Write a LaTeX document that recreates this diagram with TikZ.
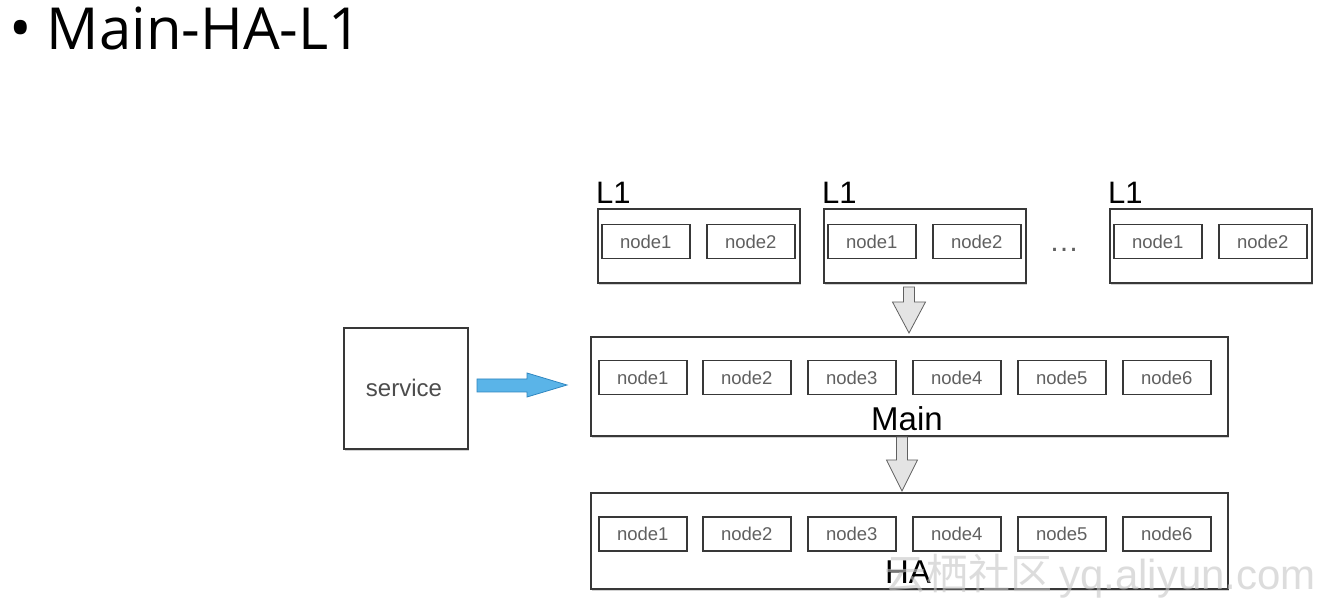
\documentclass[tikz,border=0pt]{standalone}
\usepackage{fontspec}
\setmainfont{Liberation Sans}
\newfontfamily\titlefont{Open Sans}
\newfontfamily\cjkfont{Noto Sans CJK SC}
\usetikzlibrary{shadows}
\definecolor{linec}{HTML}{383838}
\definecolor{txtc}{HTML}{606060}
\definecolor{bluef}{HTML}{5AB4E8}
\definecolor{blued}{HTML}{2F86C0}
\definecolor{grayf}{HTML}{E4E4E4}
\tikzset{
  outerbox/.style={draw=linec, line width=1.8pt, fill=white, anchor=north west, inner sep=0pt,
    drop shadow={shadow xshift=1.5pt, shadow yshift=-2.5pt, opacity=0.35}},
  innerbox/.style={draw=linec, line width=1.5pt, fill=white, minimum width=88pt, minimum height=34pt,
    inner sep=0pt, font=\fontsize{18.5}{20}\selectfont, text=txtc},
  biglabel/.style={font=\fontsize{31}{33}\selectfont, text=black, inner sep=0pt},
  downarrow/.style={draw=linec!80, line width=0.8pt, fill=grayf, line join=miter},
  bluearrow/.style={draw=blued, line width=0.8pt, fill=bluef}
}
\begin{document}
\begin{tikzpicture}[x=1pt,y=-1pt]
\useasboundingbox (0,0) rectangle (1334,609);
\fill[white] (0,0) rectangle (1334,609);
% title
\node[anchor=west, inner sep=0pt, font=\titlefont\fontsize{58}{60}\selectfont] (title) at (9,29) {{\fontsize{60}{60}\selectfont\textbullet}\ Main-HA-L1};
% L1 groups
\foreach \i/\x in {a/597,b/823,c/1109}{
  \node[outerbox, minimum width=202pt, minimum height=74pt] (L\i) at (\x,208) {};
  \node[biglabel, anchor=south west] (L\i lab) at (\x-1,204) {L1};
  \node[innerbox, anchor=north west] (L\i n1) at (\x+4,224) {node1};
  \node[innerbox, anchor=north west] (L\i n2) at (\x+109,224) {node2};
}
\node[font=\fontsize{30}{32}\selectfont, text=txtc] (dots) at (1064,250) {\ldots};
% Main
\node[outerbox, minimum width=637pt, minimum height=99pt] (main) at (590,336) {};
\foreach \k/\x in {1/598,2/702,3/807,4/912,5/1017,6/1122}{
  \node[innerbox, anchor=north west] (m\k) at (\x,360) {node\k};
}
\node[font=\fontsize{33}{35}\selectfont, inner sep=0pt] (mainlab) at (907,419) {Main};
% HA
\node[outerbox, minimum width=637pt, minimum height=96pt] (ha) at (590,492) {};
\foreach \k/\x in {1/598,2/702,3/807,4/912,5/1017,6/1122}{
  \node[innerbox, anchor=north west] (h\k) at (\x,516) {node\k};
}
\node[font=\fontsize{33}{35}\selectfont, inner sep=0pt] (halab) at (908,572) {HA};
% service
\node[outerbox, minimum width=124pt, minimum height=121pt] (service) at (343,327) {};
\node[font=\fontsize{24}{26}\selectfont, text=txtc!80!black] (servlab) at (404,388) {service};
% arrows
\coordinate (a1) at (909,287);
\draw[downarrow] (a1) ++(-5.5,0) -- ++(0,15) -- ++(-11,0) -- (909,333) -- (925.5,302) -- ++(-11,0) -- ++(0,-15) -- cycle;
\coordinate (a2) at (902,437);
\draw[downarrow] (a2) ++(-5.5,0) -- ++(0,23) -- ++(-10,0) -- (902,491) -- (917.5,460) -- ++(-10,0) -- ++(0,-23) -- cycle;
\coordinate (a3) at (477,379);
\draw[bluearrow] (a3) -- (527,379) -- (527,373) -- (567,385) -- (527,397) -- (527,392) -- (477,392) -- cycle;
% watermark
\node[anchor=west, inner sep=0pt, text=gray!45, opacity=0.6, font=\fontsize{42}{44}\selectfont] (wm) at (884,576)
  {{\cjkfont 云栖社区}\,yq.aliyun.com};
\end{tikzpicture}
\end{document}
